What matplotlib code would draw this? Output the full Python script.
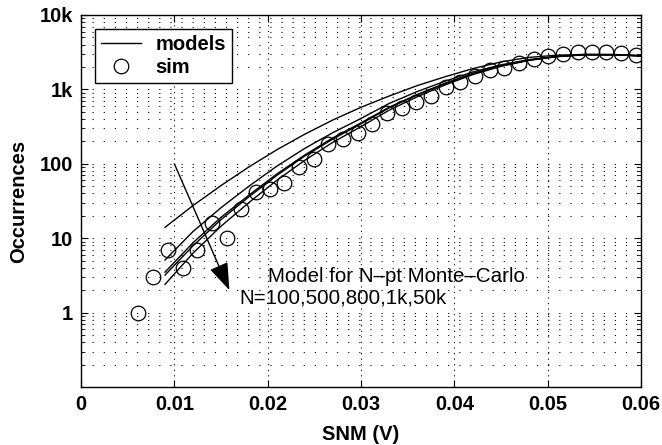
import matplotlib
matplotlib.use("Agg")
import matplotlib.pyplot as plt
from matplotlib.ticker import FixedLocator, FixedFormatter, LogLocator, NullFormatter, NullLocator
from matplotlib.lines import Line2D

plt.rcParams['font.family'] = ['Liberation Sans', 'DejaVu Sans']

# Simulated histogram of SNM (counts per bin)
sim_snm = [0.0061, 0.0077, 0.0093, 0.0109, 0.0124, 0.0140, 0.0156, 0.0171, 0.0187,
           0.0203, 0.0218, 0.0234, 0.0250, 0.0265, 0.0281, 0.0297, 0.0312, 0.0328,
           0.0344, 0.0359, 0.0375, 0.0391, 0.0406, 0.0422, 0.0438, 0.0453, 0.0469,
           0.0485, 0.0500, 0.0516, 0.0532, 0.0548, 0.0563, 0.0579, 0.0595]
sim_count = [1, 3, 7, 4, 7, 16, 10, 25, 42, 46, 55, 91, 116, 183, 213, 257, 348, 477,
             566, 673, 815, 1067, 1269, 1514, 1823, 1922, 2285, 2540, 2838, 2964, 3153,
             3212, 3212, 3113, 2900]

# Model curves for N-point Monte-Carlo
model_snm = [0.009, 0.012, 0.015, 0.018, 0.021, 0.024, 0.027, 0.030, 0.033,
             0.036, 0.039, 0.042, 0.045, 0.048, 0.051, 0.054, 0.057, 0.060]
model_n100 = [14, 27.5, 51, 91, 155, 251, 389, 575, 813, 1122, 1479, 1905, 2344,
              2692, 2884, 2951, 2917, 2818]
model_n500 = [5.1, 12.3, 25.7, 50.1, 93.3, 162, 263, 407, 646, 933, 1288, 1718, 2138,
              2512, 2786, 2951, 2951, 2851]
model_n800 = [3.5, 8.7, 19.1, 38.0, 73.3, 132, 224, 355, 575, 851, 1208, 1641, 2089,
              2483, 2767, 2931, 2931, 2831]
model_n1k = [3.2, 7.9, 17.8, 36.1, 70.1, 128, 216, 345, 564, 839, 1194, 1629, 2075,
             2477, 2767, 2924, 2924, 2825]
model_n50k = [2.4, 6.3, 14.5, 30.2, 60.3, 112, 195, 316, 525, 794, 1148, 1585, 2042,
              2455, 2754, 2917, 2917, 2818]

x_ticks = [0, 0.01, 0.02, 0.03, 0.04, 0.05, 0.06]
x_labels = ['0', '0.01', '0.02', '0.03', '0.04', '0.05', '0.06']
y_ticks = [1, 10, 100, 1000, 10000]
y_labels = ['1', '10', '100', '1k', '10k']

fig = plt.figure(figsize=(6.62, 4.45), dpi=100)
ax = fig.add_axes([0.1224, 0.1303, 0.8459, 0.8360])

for curve in (model_n100, model_n500, model_n800, model_n1k, model_n50k):
    ax.plot(model_snm, curve, color='black', lw=1.0, zorder=3)

ax.plot(sim_snm, sim_count, linestyle='none', marker='o', markersize=10.5,
        markerfacecolor='none', markeredgecolor='black', markeredgewidth=0.9, zorder=4)

ax.set_yscale('log')
ax.set_xlim(0, 0.06)
ax.set_ylim(0.1, 10000)

ax.xaxis.set_major_locator(FixedLocator(x_ticks))
ax.xaxis.set_major_formatter(FixedFormatter(x_labels))
ax.xaxis.set_minor_locator(NullLocator())
ax.yaxis.set_major_locator(FixedLocator(y_ticks))
ax.yaxis.set_major_formatter(FixedFormatter(y_labels))
ax.yaxis.set_minor_locator(LogLocator(base=10, subs=range(2, 10), numticks=20))
ax.yaxis.set_minor_formatter(NullFormatter())

ax.tick_params(which='both', direction='in', top=True, right=True, color='black')
ax.tick_params(which='major', length=5, width=0.8, labelsize=14.5, pad=6)
ax.tick_params(which='minor', length=3, width=0.6)
for lab in ax.get_xticklabels() + ax.get_yticklabels():
    lab.set_fontweight('bold')

ax.grid(True, which='both', axis='y', color='black', lw=0.8, ls=(0, (1, 9)))
ax.grid(True, which='major', axis='x', color='black', lw=0.8, ls=(0, (1, 4)))
ax.set_axisbelow(True)
for sp in ax.spines.values():
    sp.set_linewidth(1.0)

ax.set_xlabel('SNM (V)', fontsize=14.5, fontweight='bold', labelpad=8)
ax.set_ylabel('Occurrences', fontsize=14.5, fontweight='bold', labelpad=8)

ax.annotate('', xy=(0.0159, 2.0), xytext=(0.0100, 100),
            arrowprops=dict(arrowstyle='-|>,head_length=1.7,head_width=0.6',
                            color='black', lw=1.0, mutation_scale=10,
                            shrinkA=0, shrinkB=0), zorder=5)
ax.text(0.0200, 3.1, 'Model for N\u2013pt Monte\u2013Carlo', fontsize=14.8,
        ha='left', va='center', zorder=5)
ax.text(0.0170, 1.57, 'N=100,500,800,1k,50k', fontsize=14.8,
        ha='left', va='center', zorder=5)

handles = [Line2D([], [], color='black', lw=1.0),
           Line2D([], [], linestyle='none', marker='o', markersize=10.5,
                  markerfacecolor='none', markeredgecolor='black', markeredgewidth=0.9)]
leg = ax.legend(handles, ['models', 'sim'], loc='upper left',
                prop={'weight': 'bold', 'size': 14.5}, fancybox=False,
                edgecolor='black', framealpha=1, borderpad=0.3, labelspacing=0.2,
                handlelength=2.0, handletextpad=0.7, borderaxespad=0.7)
leg.get_frame().set_linewidth(1.0)

fig.savefig('out.png', dpi=100)
